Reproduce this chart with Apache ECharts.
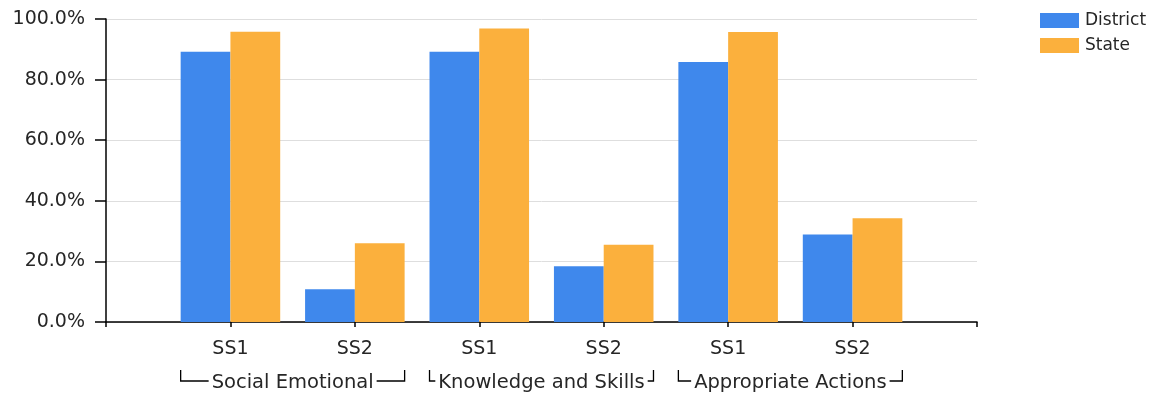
<!DOCTYPE html>
<html>
<head>
<meta charset="utf-8">
<script src="https://cdn.jsdelivr.net/npm/echarts@6/dist/echarts.min.js"></script>
<style>
html,body{margin:0;padding:0;background:#fff;}
#chart{width:1150px;height:394px;}
</style>
</head>
<body>
<div id="chart"></div>
<script>
const categories = ['SS1', 'SS2', 'SS1', 'SS2', 'SS1', 'SS2'];
const groups = ['Social Emotional', 'Knowledge and Skills', 'Appropriate Actions'];
const seriesNames = ['District', 'State'];
const district = [89.2, 10.8, 89.2, 18.4, 85.8, 28.9];
const state = [95.8, 26.0, 96.9, 25.5, 95.7, 34.2];
const yTicks = [0, 20, 40, 60, 80, 100];

const FONT = 'DejaVu Sans';
const TEXT = '#262626';
const colors = ['#3F88EC', '#FBB03D'];

// pad with empty slots so categories sit on points spaced like the reference
const xData = [''].concat(categories, ['']);
const pad = arr => [null].concat(arr, [null]);

const chart = echarts.init(document.getElementById('chart'), null, {renderer: 'canvas'});
const option = {
  animation: false,
  backgroundColor: '#fff',
  color: colors,
  grid: {left: 106, right: 173, top: 19, bottom: 72, containLabel: false},
  legend: {
    orient: 'vertical', left: 1035, top: 7, itemWidth: 39, itemHeight: 15, itemGap: 8,
    icon: 'rect',
    textStyle: {fontFamily: FONT, fontSize: 17, color: TEXT, padding: [0, 0, 0, 1]},
    data: seriesNames
  },
  xAxis: {
    type: 'category', data: xData, boundaryGap: false,
    axisLine: {lineStyle: {color: '#000', width: 1.5}},
    axisTick: {show: true, length: 5, lineStyle: {color: '#000', width: 1.5}},
    axisLabel: {fontFamily: FONT, fontSize: 19, color: TEXT, margin: 18, interval: 0},
    splitLine: {show: false}
  },
  yAxis: {
    type: 'value', min: yTicks[0], max: yTicks[yTicks.length - 1], interval: 20,
    axisLine: {show: true, lineStyle: {color: '#000', width: 1.5}},
    axisTick: {show: true, length: 11, lineStyle: {color: '#000', width: 1.5}},
    axisLabel: {fontFamily: FONT, fontSize: 19, color: TEXT, margin: 21,
      formatter: v => v.toFixed(1) + '%'},
    splitLine: {lineStyle: {color: '#dedede', width: 1}}
  },
  series: [
    {name: seriesNames[0], type: 'bar', data: pad(district), barWidth: '40%', barGap: '0%'},
    {name: seriesNames[1], type: 'bar', data: pad(state), barWidth: '40%', barGap: '0%'}
  ]
};
chart.setOption(option);

// group brackets below the category labels
const groupFont = '19.5px "' + FONT + '"';
const ctx = document.createElement('canvas').getContext('2d');
ctx.font = groupFont;
const px = i => chart.convertToPixel({xAxisIndex: 0}, i);
const band = px(2) - px(1);
const graphics = [];
const yLine = 381, yTop = 370;
groups.forEach((g, k) => {
  const x0 = px(2 * k + 1) - 0.4 * band;
  const x1 = px(2 * k + 2) + 0.4 * band;
  const cx = (x0 + x1) / 2;
  const tw = ctx.measureText(g).width;
  const tl = Math.max(x0 + 2, cx - tw / 2 - 3);
  const tr = Math.min(x1 - 2, cx + tw / 2 + 3);
  graphics.push({
    type: 'text', x: cx, y: yLine + 2,
    style: {text: g, font: groupFont, fill: TEXT, textAlign: 'center', textVerticalAlign: 'middle'}
  });
  graphics.push({
    type: 'polyline', shape: {points: [[x0, yTop], [x0, yLine], [tl, yLine]]},
    style: {stroke: '#000', lineWidth: 1.3, fill: null}
  });
  graphics.push({
    type: 'polyline', shape: {points: [[tr, yLine], [x1, yLine], [x1, yTop]]},
    style: {stroke: '#000', lineWidth: 1.3, fill: null}
  });
});
chart.setOption({graphic: graphics});
</script>
</body>
</html>
